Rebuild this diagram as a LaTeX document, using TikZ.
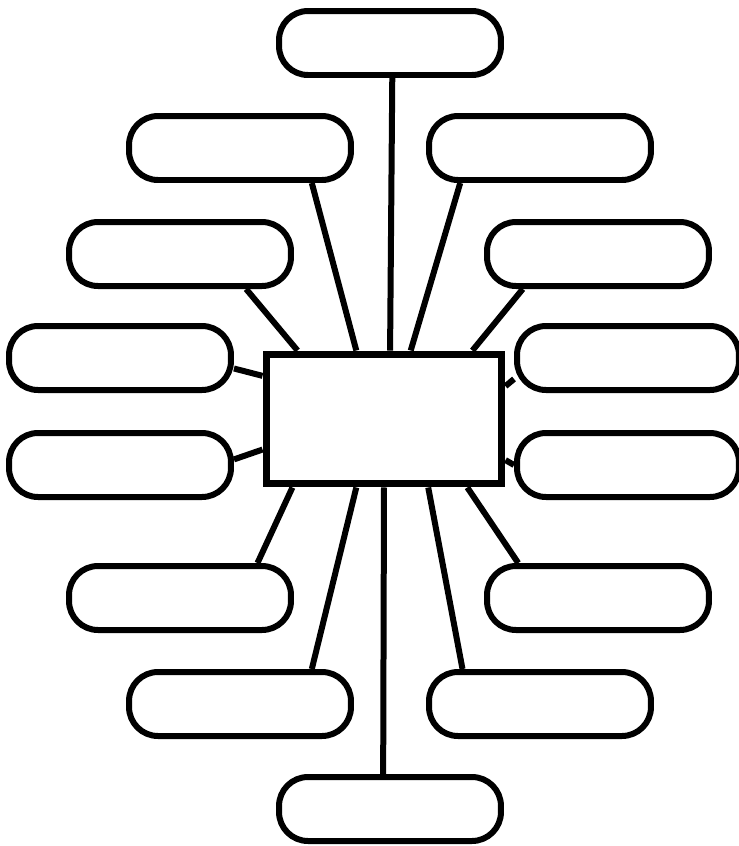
\documentclass[tikz,border=0pt]{standalone}
\usetikzlibrary{calc,backgrounds}
\begin{document}
\begin{tikzpicture}[x=0.02cm, y=-0.02cm,
  box/.style={draw, fill=white, line width=0.12cm, rounded corners=0.58cm,
              minimum width=4.44cm, minimum height=1.28cm, inner sep=0pt},
  hub/.style={draw, fill=white, line width=0.14cm,
              minimum width=4.72cm, minimum height=2.6cm, inner sep=0pt},
  link/.style={line width=0.12cm}
]
\useasboundingbox (0,0) rectangle (739,846);

% centre box
\node[hub] (hub) at (384,419) {};

% outer boxes, top to bottom
\node[box] (top)   at (390,43)  {};
\node[box] (ulA)   at (240,148) {};
\node[box] (urA)   at (540,148) {};
\node[box] (ulB)   at (180,254) {};
\node[box] (urB)   at (598,254) {};
\node[box] (ulC)   at (120,358) {};
\node[box] (urC)   at (628,358) {};
\node[box] (llC)   at (120,465) {};
\node[box] (lrC)   at (628,465) {};
\node[box] (llB)   at (180,598) {};
\node[box] (lrB)   at (598,598) {};
\node[box] (llA)   at (240,704) {};
\node[box] (lrA)   at (540,704) {};
\node[box] (bot)   at (390,809) {};

% spokes
\begin{scope}[on background layer]
\draw[link] ($(top.south west)!0.51!(top.south east)$) -- ($(hub.north west)!0.525!(hub.north east)$);
\draw[link] ($(ulA.south west)!0.815!(ulA.south east)$) -- ($(hub.north west)!0.386!(hub.north east)$);
\draw[link] ($(urA.south west)!0.15!(urA.south east)$) -- ($(hub.north west)!0.61!(hub.north east)$);
\draw[link] ($(ulB.south west)!0.79!(ulB.south east)$) -- ($(hub.north west)!0.144!(hub.north east)$);
\draw[link] ($(urB.south west)!0.17!(urB.south east)$) -- ($(hub.north west)!0.864!(hub.north east)$);
\draw[link] ($(ulC.north east)!0.65!(ulC.south east)$) -- ($(hub.north west)!0.185!(hub.south west)$);
\draw[link] ($(urC.north west)!0.8!(urC.south west)$) -- ($(hub.north east)!0.26!(hub.south east)$);
\draw[link] ($(llC.north east)!0.42!(llC.south east)$) -- ($(hub.north west)!0.723!(hub.south west)$);
\draw[link] (lrC.west) -- ($(hub.north east)!0.8!(hub.south east)$);
\draw[link] ($(llB.north west)!0.84!(llB.north east)$) -- ($(hub.south west)!0.123!(hub.south east)$);
\draw[link] ($(lrB.north west)!0.15!(lrB.north east)$) -- ($(hub.south west)!0.843!(hub.south east)$);
\draw[link] ($(llA.north west)!0.815!(llA.north east)$) -- ($(hub.south west)!0.386!(hub.south east)$);
\draw[link] ($(lrA.north west)!0.16!(lrA.north east)$) -- ($(hub.south west)!0.682!(hub.south east)$);
\draw[link] ($(bot.north west)!0.47!(bot.north east)$) -- ($(hub.south west)!0.5!(hub.south east)$);
\end{scope}

\end{tikzpicture}
\end{document}
